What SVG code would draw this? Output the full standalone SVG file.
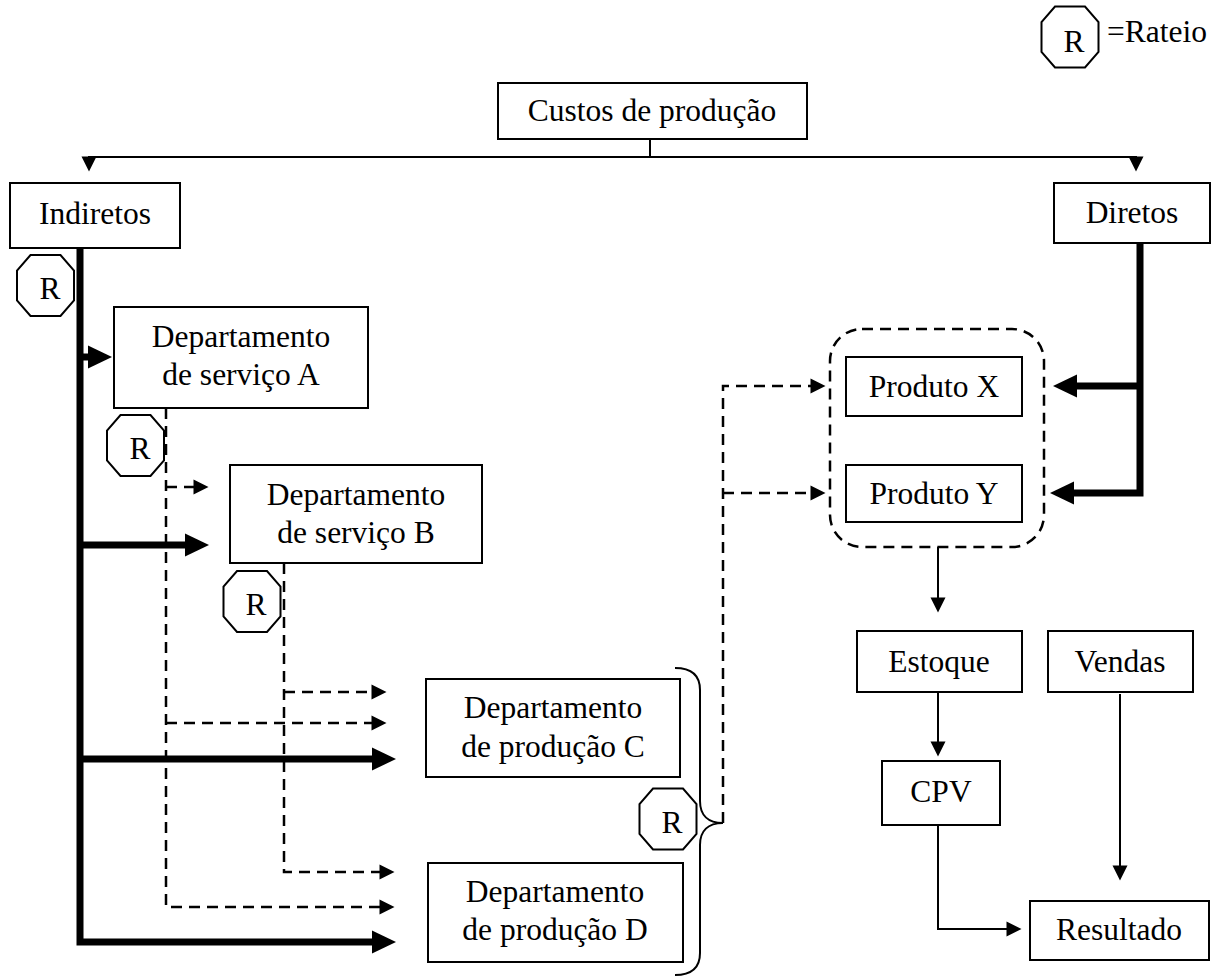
<svg xmlns="http://www.w3.org/2000/svg" width="1221" height="976" viewBox="0 0 1221 976">
<style>
text{font-family:"Liberation Serif","Times New Roman",serif;font-size:31.5px;fill:#000;text-anchor:middle}
.box{fill:#fff;stroke:#000;stroke-width:2}
.oct{fill:#fff;stroke:#000;stroke-width:2}
.thin{fill:none;stroke:#000;stroke-width:2;marker-end:url(#ah)}
.dash{fill:none;stroke:#000;stroke-width:2.5;stroke-dasharray:11 7;marker-end:url(#ah)}
.thick{fill:none;stroke:#000;stroke-width:7;stroke-linejoin:miter;marker-end:url(#ahT)}
.plain{fill:none;stroke:#000;stroke-width:2}
</style>
<defs>
<marker id="ah" markerUnits="userSpaceOnUse" markerWidth="16" markerHeight="16" refX="0.5" refY="7.5" orient="auto" overflow="visible">
<path d="M0,0 L15,7.5 L0,15 z" fill="#000"/>
</marker>
<marker id="ahT" markerUnits="userSpaceOnUse" markerWidth="26" markerHeight="24" refX="1" refY="11.5" orient="auto" overflow="visible">
<path d="M0,0 L24,11.5 L0,23 z" fill="#000"/>
</marker>
<polygon id="octShape" points="-15,-30.5 15,-30.5 28.5,-15 28.5,15 15,30.5 -15,30.5 -28.5,15 -28.5,-15"/>
</defs>

<g id="connectors">
<path class="plain" d="M650,139 L650,157 M89,157 L1136,157"/>
<path class="thin" d="M89,156 L89,157"/>
<path class="thin" d="M1136,156 L1136,157"/>
<path class="thick" d="M80,248 L80,942 L373,942"/>
<path class="thick" d="M80,357 L89,357"/>
<path class="thick" d="M80,545 L186,545"/>
<path class="thick" d="M80,759 L373,759"/>
<path class="thick" d="M1140,243 L1140,493 L1073,493"/>
<path class="thick" d="M1140,386 L1076,386"/>
<path class="dash" d="M166,408 L166,907 L380,907"/>
<path class="dash" d="M166,487 L194,487"/>
<path class="dash" d="M166,723 L372,723"/>
<path class="dash" d="M284,563 L284,872 L380,872"/>
<path class="dash" d="M284,692 L372,692"/>
<path class="dash" d="M723,823 L723,386 L811,386"/>
<path class="dash" d="M723,493 L811,493"/>
<path class="thin" d="M938,547 L938,598"/>
<path class="thin" d="M938,692 L938,742"/>
<path class="thin" d="M1120,694 L1120,866"/>
<path class="thin" d="M938,825 L938,929 L1007,929"/>
<path class="plain" d="M675,668 C692,668 700,676 700,690 L700,801 C700,815 708,823 723,823 C708,823 700,831 700,845 L700,953 C700,967 692,975 675,975"/>
</g>

<g id="grupo-produtos">
<rect x="830" y="329" width="214" height="218" rx="32" ry="32" fill="none" stroke="#000" stroke-width="2.5" stroke-dasharray="11 7"/>
</g>

<g id="custos"><rect class="box" x="498" y="83" width="309" height="56"/><text x="652" y="121">Custos de produção</text></g>
<g id="indiretos"><rect class="box" x="10" y="183" width="170" height="65"/><text x="95" y="224">Indiretos</text></g>
<g id="diretos"><rect class="box" x="1054" y="183" width="156" height="60"/><text x="1132" y="223">Diretos</text></g>
<g id="dep-a"><rect class="box" x="114" y="307" width="254" height="101"/><text x="241" y="347">Departamento</text><text x="241" y="385">de serviço A</text></g>
<g id="dep-b"><rect class="box" x="230" y="465" width="252" height="98"/><text x="356" y="505">Departamento</text><text x="356" y="543">de serviço B</text></g>
<g id="dep-c"><rect class="box" x="426" y="679" width="254" height="98"/><text x="553" y="718">Departamento</text><text x="553" y="757">de produção C</text></g>
<g id="dep-d"><rect class="box" x="428" y="863" width="255" height="99"/><text x="555" y="902">Departamento</text><text x="555" y="940">de produção D</text></g>
<g id="produto-x"><rect class="box" x="846" y="357" width="176" height="59"/><text x="934" y="397">Produto X</text></g>
<g id="produto-y"><rect class="box" x="846" y="465" width="176" height="57"/><text x="934" y="504">Produto Y</text></g>
<g id="estoque"><rect class="box" x="857" y="631" width="165" height="61"/><text x="939" y="672">Estoque</text></g>
<g id="vendas"><rect class="box" x="1048" y="631" width="145" height="61"/><text x="1120" y="672">Vendas</text></g>
<g id="cpv"><rect class="box" x="882" y="761" width="118" height="64"/><text x="941" y="802">CPV</text></g>
<g id="resultado"><rect class="box" x="1030" y="901" width="179" height="59"/><text x="1119" y="940">Resultado</text></g>

<g id="rateio-1"><use href="#octShape" class="oct" x="45.5" y="285.5"/><text x="50" y="299">R</text></g>
<g id="rateio-2"><use href="#octShape" class="oct" x="135.5" y="445.5"/><text x="140" y="459">R</text></g>
<g id="rateio-3"><use href="#octShape" class="oct" x="252" y="601.5"/><text x="256" y="615">R</text></g>
<g id="rateio-4"><use href="#octShape" class="oct" x="668" y="819"/><text x="672" y="833">R</text></g>
<g id="legenda"><use href="#octShape" class="oct" x="1070" y="37"/><text x="1074" y="52">R</text><text x="1107" y="42" style="text-anchor:start">=Rateio</text></g>
</svg>
